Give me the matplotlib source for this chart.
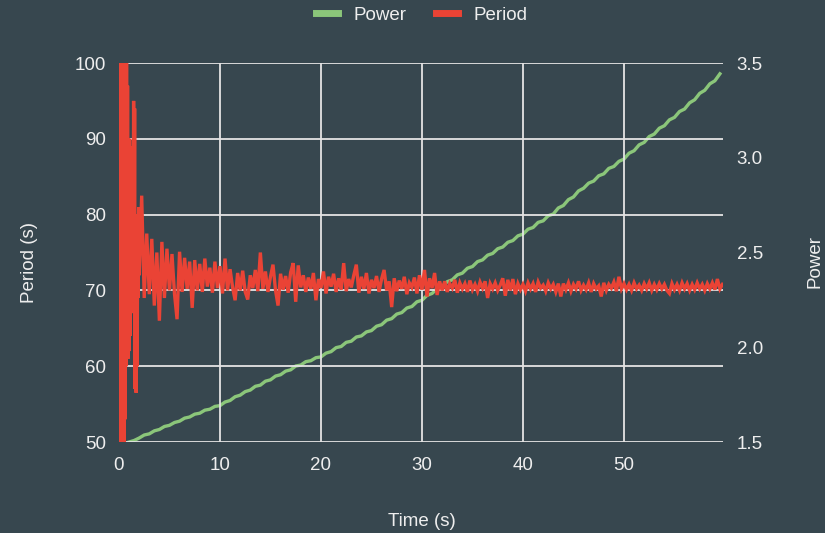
import numpy as np
import matplotlib
matplotlib.use('Agg')
import matplotlib.pyplot as plt
from matplotlib.lines import Line2D

plt.rcParams['font.family'] = ['Liberation Sans', 'DejaVu Sans']

BG = '#37474f'
GRID = '#e4e4e4'
TEXT = '#eeeeee'
RED = '#ea4335'
GREEN = '#8bc67a'

# period: fine sampling for the first two seconds, then every 0.25 s
PERIOD_EARLY_START, PERIOD_EARLY_STEP = 0.10, 0.05
period_early = [
    50, 100, 51, 100, 50, 99, 52, 100, 50, 100,
    53, 100, 60, 100, 61, 97, 61, 90, 62, 90,
    64, 89, 67, 88, 68.5, 86, 69, 95, 72, 94,
    57, 80, 56.5, 78, 60, 76, 69, 81,
]
PERIOD_LATE_START, PERIOD_LATE_STEP = 2.0, 0.25
period_late = [
    72.0, 82.5, 69.0, 77.5, 69.5, 76.8, 68.0, 75.0,
    66.0, 76.4, 69.0, 75.5, 70.0, 74.8, 69.5, 66.2,
    75.1, 69.8, 74.3, 70.2, 73.8, 67.7, 74.0, 70.0,
    73.5, 69.8, 74.2, 70.5, 73.0, 69.7, 73.8, 70.3,
    73.2, 69.6, 74.2, 70.0, 72.8, 70.4, 68.7, 72.3,
    70.0, 72.6, 69.8, 68.8, 72.0, 70.3, 72.7, 69.9,
    75.0, 70.2, 72.5, 69.8, 71.8, 73.4, 70.0, 68.0,
    72.2, 70.1, 71.9, 69.7, 72.4, 73.6, 68.5, 73.3,
    70.4, 72.0, 69.8, 71.7, 70.2, 72.3, 68.7, 71.5,
    70.3, 72.5, 69.6, 71.8, 70.5, 72.2, 69.8, 71.6,
    70.1, 73.6, 69.9, 71.5, 70.4, 72.0, 73.4, 69.7,
    71.8, 70.2, 72.3, 69.6, 71.4, 70.3, 71.9, 69.8,
    71.5, 72.7, 70.0, 71.2, 67.8, 71.6, 69.9, 71.3,
    70.2, 71.8, 69.5, 71.0, 70.4, 71.7, 69.6, 72.0,
    70.1, 72.7, 69.2, 71.6, 70.3, 72.3, 69.4, 71.2,
    70.0, 71.2, 69.8, 70.9, 70.3, 71.4, 69.7, 71.0,
    70.2, 70.9, 69.8, 71.3, 70.1, 70.8, 69.9, 71.1,
    70.3, 71.2, 69.0, 70.9, 70.2, 71.0, 70.0, 70.7,
    71.6, 69.3, 71.4, 70.0, 71.5, 69.5, 70.9, 70.1,
    70.8, 69.9, 71.0, 70.2, 70.9, 69.8, 71.1, 70.3,
    70.7, 69.9, 71.0, 70.2, 70.8, 69.8, 70.9, 69.2,
    70.9, 70.1, 71.0, 69.9, 70.8, 70.2, 71.2, 70.0,
    70.7, 70.1, 71.0, 69.8, 70.9, 70.2, 70.6, 69.2,
    71.0, 70.0, 70.8, 70.3, 71.1, 69.9, 71.8, 70.2,
    70.9, 70.1, 70.8, 70.0, 71.0, 70.2, 70.7, 70.0,
    70.9, 70.2, 71.0, 70.0, 70.8, 70.1, 70.9, 70.2,
    70.8, 70.0, 69.6, 70.9, 70.1, 70.8, 70.0, 71.0,
    70.2, 70.9, 70.0, 70.8, 70.1, 71.0, 70.2, 70.8,
    70.0, 70.9, 70.2, 71.0, 70.1, 71.5, 70.2, 70.8,
]

# power: every 0.5 s from t = 1.0
POWER_START, POWER_STEP = 1.0, 0.5
power = [
    1.500, 1.508, 1.521, 1.537, 1.543, 1.559, 1.566, 1.582, 1.588, 1.603,
    1.610, 1.626, 1.632, 1.647, 1.652, 1.668, 1.673, 1.688, 1.692, 1.711,
    1.719, 1.739, 1.747, 1.766, 1.774, 1.794, 1.800, 1.821, 1.828, 1.848,
    1.855, 1.874, 1.881, 1.901, 1.906, 1.924, 1.929, 1.945, 1.949, 1.969,
    1.977, 1.998, 2.004, 2.026, 2.032, 2.054, 2.060, 2.081, 2.088, 2.111,
    2.119, 2.143, 2.151, 2.175, 2.183, 2.207, 2.215, 2.240, 2.248, 2.274,
    2.284, 2.310, 2.320, 2.346, 2.356, 2.382, 2.391, 2.417, 2.426, 2.452,
    2.461, 2.486, 2.495, 2.520, 2.529, 2.554, 2.563, 2.588, 2.597, 2.623,
    2.632, 2.659, 2.667, 2.694, 2.703, 2.735, 2.748, 2.779, 2.793, 2.825,
    2.839, 2.866, 2.877, 2.905, 2.915, 2.944, 2.954, 2.981, 2.993, 3.024,
    3.037, 3.068, 3.081, 3.112, 3.125, 3.156, 3.169, 3.200, 3.213, 3.244,
    3.257, 3.290, 3.306, 3.340, 3.356, 3.390, 3.406, 3.443,
]

period_t = np.concatenate([
    PERIOD_EARLY_START + PERIOD_EARLY_STEP * np.arange(len(period_early)),
    PERIOD_LATE_START + PERIOD_LATE_STEP * np.arange(len(period_late)),
])
period = np.array(period_early + period_late)
power_t = POWER_START + POWER_STEP * np.arange(len(power))

fig = plt.figure(figsize=(8.25, 5.33), dpi=100, facecolor=BG)
ax1 = fig.add_axes([0.1442, 0.1707, 0.7321, 0.7111])
ax2 = ax1.twinx()
ax1.set_zorder(2)
ax2.set_zorder(1)
ax1.patch.set_visible(False)
ax2.patch.set_visible(False)

ax2.plot(power_t, power, color=GREEN, lw=2.4)
ax1.plot(period_t, period, color=RED, lw=2.4, solid_joinstyle='miter')

ax1.set_xlim(0, 59.8)
ax1.set_ylim(50, 100)
ax2.set_ylim(1.5, 3.5)
ax1.set_xticks(range(0, 60, 10))
ax1.set_yticks(range(50, 101, 10))
ax2.set_yticks([1.5, 2.0, 2.5, 3.0, 3.5])
ax2.set_yticklabels(['1.5', '2.0', '2.5', '3.0', '3.5'])

ax1.grid(True, color=GRID, lw=1.3)
ax1.set_axisbelow(True)
for ax in (ax1, ax2):
    for s in ax.spines.values():
        s.set_visible(False)
    ax.tick_params(length=0, labelsize=13.5, labelcolor=TEXT)
ax1.tick_params(axis='y', pad=9)
ax1.tick_params(axis='x', pad=11)
ax2.tick_params(axis='y', pad=10)

fig.text(30 / 825, 1 - 263 / 533, 'Period (s)', rotation=90, ha='center',
         va='center', fontsize=13.5, color=TEXT)
fig.text(815 / 825, 1 - 262 / 533, 'Power', rotation=90, ha='center',
         va='center', fontsize=13.5, color=TEXT)
fig.text(422 / 825, 1 - 521 / 533, 'Time (s)', ha='center', va='center',
         fontsize=13.5, color=TEXT)

handles = [Line2D([], [], color=GREEN, lw=5), Line2D([], [], color=RED, lw=5)]
fig.legend(handles, ['Power', 'Period'], loc='center',
           bbox_to_anchor=(422 / 825, 1 - 15 / 533), ncol=2, frameon=False,
           handlelength=1.15, handletextpad=0.85, columnspacing=1.6,
           fontsize=13.5, labelcolor=TEXT)

fig.savefig('out.png', dpi=100, facecolor=BG)
